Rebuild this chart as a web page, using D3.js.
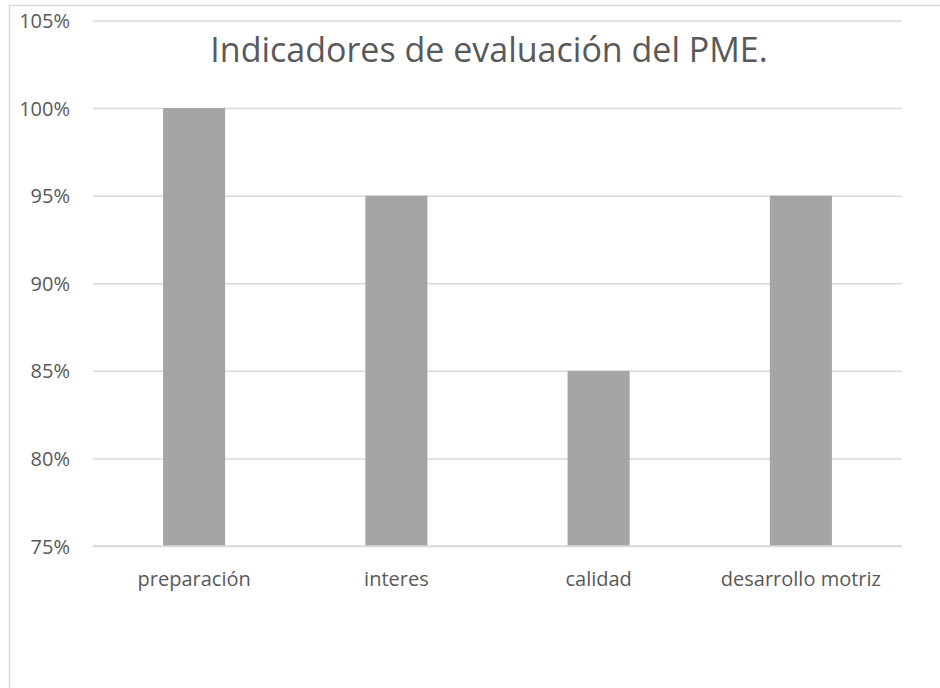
<!DOCTYPE html>
<html>
<head>
<meta charset="utf-8">
<script src="https://cdn.jsdelivr.net/npm/d3@7"></script>
<style>
body { margin: 0; background: #fff; }
svg { font-family: "Open Sans", sans-serif; }
</style>
</head>
<body>
<svg></svg>
<script>
var categories = ['preparación', 'interes', 'calidad', 'desarrollo motriz'];
var values = [1.00, 0.95, 0.85, 0.95];
var yTicks = [0.75, 0.80, 0.85, 0.90, 0.95, 1.00, 1.05];
var title = 'Indicadores de evaluación del PME.';

var svgWidth = 940;
var svgHeight = 688;
var plotLeft = 93, plotRight = 902, plotTop = 20.5, plotBottom = 546;

var svg = d3.select('svg')
	.attr('width', svgWidth)
	.attr('height', svgHeight);

// chart frame
svg.append('rect')
	.attr('x', 9.5)
	.attr('y', 5.5)
	.attr('width', 960)
	.attr('height', 700)
	.attr('fill', 'none')
	.attr('stroke', '#d9d9d9')
	.attr('stroke-width', 1.5);

var xScale = d3.scaleBand()
	.domain(categories)
	.range([plotLeft, plotRight])
	.paddingInner(0.693)
	.paddingOuter(0.3465);
var yScale = d3.scaleLinear()
	.domain([0.75, 1.05])
	.range([plotBottom, plotTop]);

var yAxis = d3.axisLeft(yScale)
	.tickValues(yTicks)
	.tickFormat(d3.format('.0%'))
	.tickSize(-(plotRight - plotLeft))
	.tickPadding(23);

var gy = svg.append('g')
	.attr('transform', `translate(${plotLeft},0)`)
	.call(yAxis);
gy.select('.domain').remove();
gy.selectAll('line')
	.attr('stroke', '#d9d9d9')
	.attr('stroke-width', 1.5);
gy.selectAll('text')
	.attr('fill', '#595959')
	.attr('font-size', '20px')
	.attr('font-family', '"Open Sans", sans-serif')
	.attr('dy', '0.35em');

svg.selectAll('rect.bar')
	.data(values)
	.enter()
	.append('rect')
	.attr('class', 'bar')
	.attr('x', (d, i) => xScale(categories[i]))
	.attr('y', d => yScale(d))
	.attr('width', xScale.bandwidth())
	.attr('height', d => plotBottom - yScale(d))
	.attr('fill', '#a5a5a5');

// baseline over bars
svg.append('line')
	.attr('x1', plotLeft)
	.attr('x2', plotRight)
	.attr('y1', plotBottom)
	.attr('y2', plotBottom)
	.attr('stroke', '#d9d9d9')
	.attr('stroke-width', 1.5);

var xAxis = d3.axisBottom(xScale)
	.tickSize(0)
	.tickPadding(0);
var gx = svg.append('g')
	.attr('transform', `translate(0,${plotBottom})`)
	.call(xAxis);
gx.select('.domain').remove();
gx.selectAll('text')
	.attr('fill', '#595959')
	.attr('font-size', '20px')
	.attr('font-family', '"Open Sans", sans-serif')
	.attr('dy', 0)
	.attr('y', 40);

svg.append('text')
	.attr('x', 489)
	.attr('y', 62)
	.attr('text-anchor', 'middle')
	.attr('fill', '#595959')
	.attr('font-size', '34px')
	.text(title);
</script>
</body>
</html>
